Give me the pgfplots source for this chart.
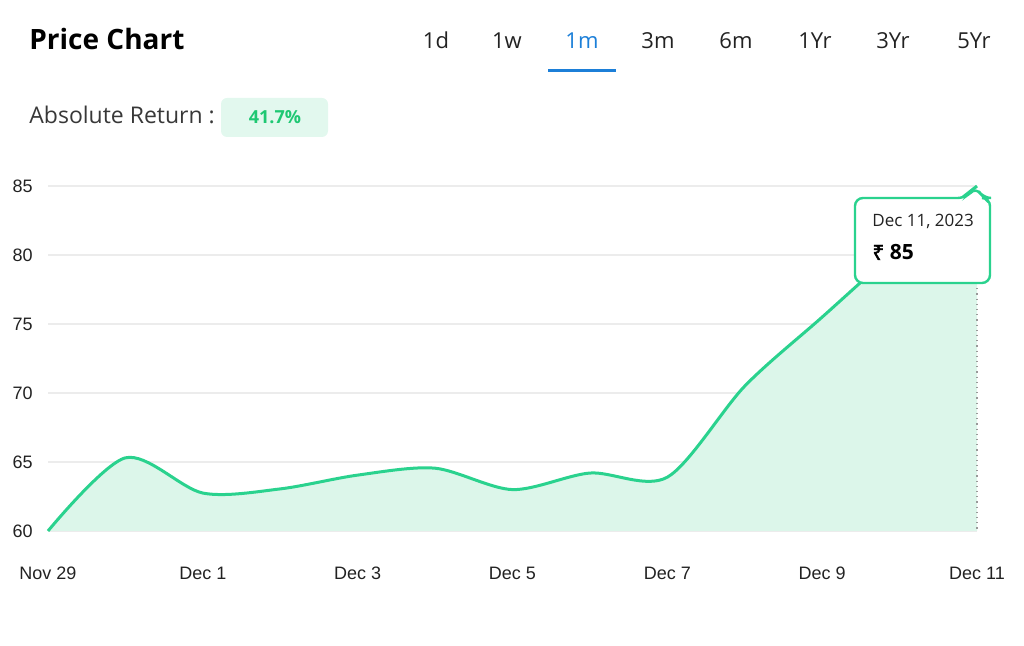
\documentclass[border=0pt]{standalone}
\usepackage{fontspec}
\setmainfont{Open Sans}
\newfontfamily\rupee{Noto Sans}[FakeBold=2]
\newfontfamily\arial{Liberation Sans}
\usepackage{pgfplots}
\pgfplotsset{compat=1.18}

\definecolor{linegreen}{HTML}{2AD28E}
\definecolor{fillgreen}{HTML}{DCF6EA}
\definecolor{badgebg}{HTML}{E2F8EE}
\definecolor{badgetxt}{HTML}{1FC873}
\definecolor{gridgray}{HTML}{ECECEC}
\definecolor{tabblue}{HTML}{1C7FD8}
\definecolor{txt}{HTML}{222222}

\begin{document}
\begin{tikzpicture}[x=0.5pt, y=0.5pt]
\useasboundingbox (0,0) rectangle (1024,646);

% header (y measured from the bottom of the picture)
\node[anchor=base west, inner sep=0, font=\fontsize{14}{18}\selectfont\bfseries, text=black] at (29,596) {Price Chart};
\foreach \lab/\cx in {1d/436, 1w/507, 3m/658, 6m/736, 1Yr/815, 3Yr/893, 5Yr/974}
  \node[anchor=base, inner sep=0, font=\fontsize{11}{13}\selectfont, text=txt] at (\cx,597) {\lab};
\node[anchor=base, inner sep=0, font=\fontsize{11}{13}\selectfont, text=tabblue] at (582,597) {1m};
\draw[tabblue, line width=1.5pt] (548,575) -- (616,575);

\node[anchor=base west, inner sep=0, font=\fontsize{11.5}{13}\selectfont, text=txt!90] at (29,522) {Absolute Return :};
\fill[badgebg, rounded corners=3pt] (221,548) rectangle (328,509);
\node[inner sep=0, font=\fontsize{9}{11}\selectfont\bfseries, text=badgetxt] at (275,529) {41.7\%};

\begin{axis}[
  at={(24pt,57.5pt)}, anchor=south west,
  scale only axis, width=464.5pt, height=172.5pt,
  xmin=0, xmax=12, ymin=60, ymax=85,
  clip=false,
  axis line style={draw=none},
  major tick length=0pt,
  xtick={0,2,4,6,8,10,12},
  xticklabels={Nov 29, Dec 1, Dec 3, Dec 5, Dec 7, Dec 9, Dec 11},
  ytick={60,65,70,75,80,85},
  /pgf/number format/assume math mode=true,
  ymajorgrids,
  grid style={draw=gridgray, line width=0.6pt},
  ticklabel style={font=\arial\fontsize{9}{10}\selectfont, text=txt, inner sep=0pt},
  xticklabel style={anchor=north, yshift=-18pt},
  yticklabel style={anchor=east, xshift=-7.5pt},
]
\addplot[draw=none, fill=fillgreen, smooth] coordinates {
(0,60) (1,65.3) (2,62.75) (3,63.05) (4,64.05) (5,64.55) (6,63.0) (7,64.2) (8,63.9) (9,70.5) (10,75.5) (11,80.5) (12,85)
} \closedcycle;
\addplot[linegreen, line width=1.5pt, smooth] coordinates {
(0,60) (1,65.3) (2,62.75) (3,63.05) (4,64.05) (5,64.55) (6,63.0) (7,64.2) (8,63.9) (9,70.5) (10,75.5) (11,80.5) (12,85)
};
\end{axis}

% hover line and tooltip
\draw[gray!80, dotted, line width=0.6pt] (977,363) -- (977,115);
\draw[linegreen, line width=1.2pt, fill=white, rounded corners=4pt]
  (855,448) -- (966,448) -- (976,459) -- (983,448) -- (990,448) -- (990,363) -- (855,363) -- cycle;
\node[anchor=base west, inner sep=0, font=\fontsize{8.5}{10}\selectfont, text=txt] at (872,419) {Dec 11, 2023};
\node[anchor=base west, inner sep=0, font=\fontsize{10.5}{12}\selectfont\bfseries, text=black] at (872,386) {{\rupee ₹} 85};
\end{tikzpicture}
\end{document}
